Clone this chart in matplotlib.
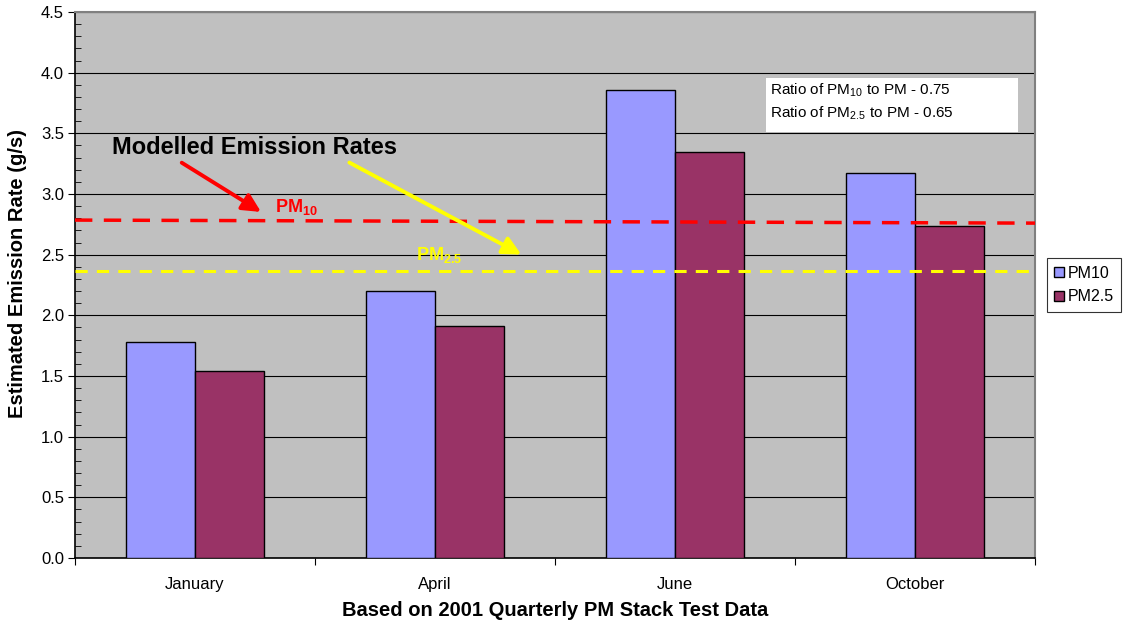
import matplotlib
matplotlib.use("Agg")
import matplotlib.pyplot as plt
from matplotlib.patches import Rectangle
from matplotlib.ticker import MultipleLocator, FormatStrFormatter
import numpy as np

plt.rcParams['font.family'] = ['Liberation Sans', 'DejaVu Sans']
plt.rcParams['mathtext.fontset'] = 'custom'
plt.rcParams['mathtext.rm'] = 'Liberation Sans'
plt.rcParams['mathtext.bf'] = 'Liberation Sans:bold'

months = ["January", "April", "June", "October"]
pm10 = [1.78, 2.20, 3.86, 3.17]
pm25 = [1.54, 1.91, 3.35, 2.74]
modelled_pm10 = [2.785, 2.76]   # dashed line, left end / right end
modelled_pm25 = [2.365, 2.365]

W, H = 1123, 629
fig = plt.figure(figsize=(W / 100, H / 100), dpi=100)
ax = fig.add_axes([75 / W, 1 - 558 / H, 960 / W, 546 / H])
ax.set_facecolor("#C0C0C0")

x = np.arange(len(months))
w = 0.2875
ax.bar(x - w / 2, pm10, w, color="#9999FF", edgecolor="black", linewidth=1, label="PM10", zorder=3)
ax.bar(x + w / 2, pm25, w, color="#993366", edgecolor="black", linewidth=1, label="PM2.5", zorder=3)

ax.set_xlim(-0.5, len(months) - 0.5)
ax.set_ylim(0, 4.5)
ax.yaxis.set_major_locator(MultipleLocator(0.5))
ax.yaxis.set_minor_locator(MultipleLocator(0.1))
ax.yaxis.set_major_formatter(FormatStrFormatter("%.1f"))
ax.grid(axis="y", which="major", color="black", linewidth=0.8, zorder=1)

ax.set_xticks(np.arange(-0.5, len(months), 1.0))
ax.set_xticklabels([])
ax.set_xticks(x, minor=True)
ax.set_xticklabels(months, minor=True)
ax.tick_params(axis="x", which="major", length=5, direction="out", color="black")
ax.tick_params(axis="x", which="minor", length=0, pad=13.5, labelsize=12)
ax.tick_params(axis="y", which="major", length=5, direction="out", labelsize=12, pad=3)
ax.tick_params(axis="y", which="minor", length=4, direction="in")

for s in ["left", "bottom"]:
    ax.spines[s].set_color("black")
    ax.spines[s].set_linewidth(1.2)
for s in ["top", "right"]:
    ax.spines[s].set_color("#808080")
    ax.spines[s].set_linewidth(1.5)

fig.text(18 / W, 1 - 273 / H, "Estimated Emission Rate (g/s)", rotation=90,
         fontsize=14.5, fontweight="bold", ha="center", va="center")
fig.text(555 / W, 1 - 610 / H, "Based on 2001 Quarterly PM Stack Test Data",
         fontsize=14.5, fontweight="bold", ha="center", va="center")

# modelled emission rate lines
ax.plot([-0.5, 3.5], modelled_pm10, color="red", linestyle=(0, (5, 3.3)), linewidth=2.5, zorder=4)
ax.plot([-0.5, 3.5], modelled_pm25, color="yellow", linestyle=(0, (4, 3)), linewidth=2.2, zorder=4)

ax.text(-0.346, 3.38, "Modelled Emission Rates", fontsize=17, fontweight="bold", va="center", ha="left", zorder=6)
ax.annotate("", xy=(0.285, 2.84), xytext=(-0.065, 3.27),
            arrowprops=dict(arrowstyle="-|>,head_length=1.1,head_width=0.55", color="red", lw=2.8), zorder=6)
ax.annotate("", xy=(1.37, 2.49), xytext=(0.633, 3.27),
            arrowprops=dict(arrowstyle="-|>,head_length=1.1,head_width=0.55", color="yellow", lw=2.8), zorder=6)
ax.text(0.333, 2.89, r"PM$_{\mathbf{10}}$", color="red", fontsize=13, fontweight="bold", va="center", ha="left", zorder=6)
ax.text(0.92, 2.50, r"PM$_{\mathbf{2.5}}$", color="yellow", fontsize=13, fontweight="bold", va="center", ha="left", zorder=6)

# ratio note
ax.add_patch(Rectangle((0.72, 0.78), 0.262, 0.099, transform=ax.transAxes,
                       facecolor="white", edgecolor="none", zorder=5))
ax.text(0.724, 0.856, r"Ratio of PM$_{10}$ to PM - 0.75", transform=ax.transAxes,
        fontsize=11, va="center", ha="left", zorder=6)
ax.text(0.724, 0.814, r"Ratio of PM$_{2.5}$ to PM - 0.65", transform=ax.transAxes,
        fontsize=11, va="center", ha="left", zorder=6)

leg = ax.legend(loc="center left", bbox_to_anchor=(1.0125, 0.5), fontsize=11.5, frameon=True,
                fancybox=False, edgecolor="black", handlelength=0.6, handleheight=0.6,
                handletextpad=0.25, borderpad=0.45, labelspacing=0.55, borderaxespad=0)
leg.get_frame().set_linewidth(0.8)

fig.savefig("out.png", dpi=100, facecolor="white")
